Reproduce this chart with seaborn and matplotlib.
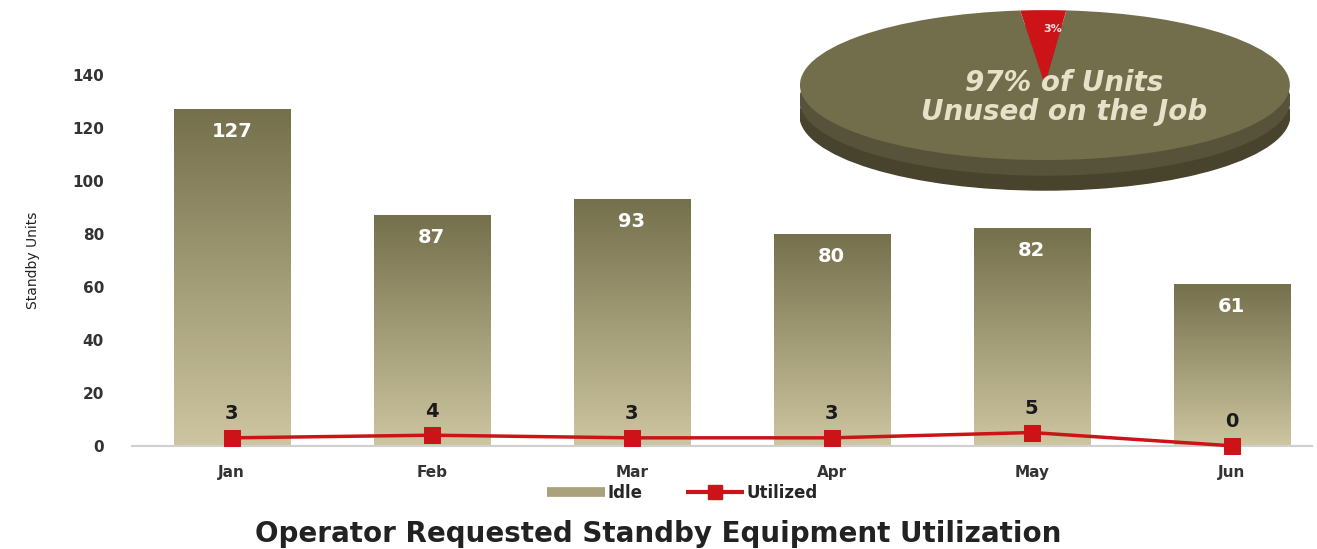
import numpy as np
import pandas as pd
import seaborn as sns
import matplotlib.pyplot as plt
from matplotlib.lines import Line2D
from matplotlib.patches import Ellipse

sns.set_theme(style="white")
plt.rcParams['font.family'] = ['DejaVu Sans']

# Data
months = ["Jan", "Feb", "Mar", "Apr", "May", "Jun"]
idle = [127, 87, 93, 80, 82, 61]
utilized = [3, 4, 3, 3, 5, 0]
pie_values = [3, 97]
pie_labels = ["3%", "97% of Units\nUnused on the Job"]

df = pd.DataFrame({"Month": months, "Idle": idle, "Utilized": utilized})

bar_top = "#75704c"
bar_bottom = "#cdc6a0"
red = "#cc1418"

fig = plt.figure(figsize=(13.17, 5.49), dpi=100)
ax = fig.add_axes([0.100, 0.188, 0.896, 0.676])

sns.barplot(data=df, x="Month", y="Idle", color=bar_top, width=0.58,
            saturation=1, ax=ax)

# gradient fill for each bar
grad = np.linspace(0, 1, 256).reshape(-1, 1)
cmap = sns.blend_palette([bar_bottom, bar_top], as_cmap=True)
for p in ax.patches:
    x0, y0 = p.get_x(), p.get_y()
    w, h = p.get_width(), p.get_height()
    im = ax.imshow(grad, extent=[x0, x0 + w, y0, y0 + h], origin="lower",
                   cmap=cmap, aspect="auto", zorder=2)
    im.set_clip_path(p)

sns.lineplot(data=df, x="Month", y="Utilized", color=red, linewidth=2.5,
             marker="s", markersize=12, markeredgecolor=red, ax=ax,
             zorder=5, clip_on=False)

for i, v in enumerate(idle):
    ax.text(i, v - 8.5, str(v), ha="center", va="center", color="white",
            fontsize=14, fontweight="bold", zorder=6)
for i, v in enumerate(utilized):
    ax.text(i, v + 9, str(v), ha="center", va="center", color="#1a1a1a",
            fontsize=14, fontweight="bold", zorder=6)

ax.set_xlim(-0.5, 5.4)
ax.set_ylim(0, 140)
ax.set_yticks(range(0, 141, 20))
ax.set_xlabel("")
ax.set_ylabel("Standby Units", fontsize=10, color="#222")
ax.yaxis.set_label_coords(-0.078, 0.5)
ax.tick_params(axis="both", labelsize=11, colors="#333", length=0)
for lab in ax.get_xticklabels() + ax.get_yticklabels():
    lab.set_fontweight("bold")
ax.tick_params(axis="x", pad=14)
ax.tick_params(axis="y", pad=20)
for s in ["top", "right", "left"]:
    ax.spines[s].set_visible(False)
ax.spines["bottom"].set_color("#d0d0d0")
ax.spines["bottom"].set_linewidth(1.5)
ax.set_facecolor("white")

handles = [Line2D([0], [0], color="#a9a27c", linewidth=7,
                  solid_capstyle="butt"),
           Line2D([0], [0], color=red, linewidth=3, marker="s", markersize=10,
                  solid_capstyle="butt")]
fig.legend(handles, ["Idle", "Utilized"], loc="center", ncol=2,
           bbox_to_anchor=(0.518, 0.102), frameon=False, handlelength=3.5,
           handletextpad=0.15, columnspacing=2.6,
           prop={"weight": "bold", "size": 12})

fig.text(0.5, 0.027, "Operator Requested Standby Equipment Utilization",
         ha="center", va="center", fontsize=20, fontweight="bold",
         color="#222")

# flattened 3D-looking pie in the top right
pax = fig.add_axes([0.6074, 0.6357, 0.372, 0.355])
pax.add_patch(Ellipse((0, -0.4), 2.0, 2.0, color="#47432d", zorder=1))
pax.add_patch(Ellipse((0, -0.2), 2.0, 2.0, color="#57533a", zorder=1))
wedges, _ = pax.pie(pie_values, colors=[red, "#726e4b"], startangle=85,
                    radius=1.0, wedgeprops={"linewidth": 0})
for wdg in wedges:
    wdg.set_zorder(2)
pax.set_aspect("auto")
pax.set_xlim(-1.0, 1.0)
pax.set_ylim(-1.533, 1.067)
pax.text(0.03, 0.75, pie_labels[0], ha="center", va="center",
         color="#f0dcdc", fontsize=8, fontweight="bold", zorder=3)
pax.text(0.08, -0.17, pie_labels[1], ha="center", va="center",
         color="#e6e1c8", fontsize=20, style="italic", fontweight="bold",
         linespacing=1.05, zorder=3)
pax.axis("off")

fig.savefig("out.png", dpi=100)
